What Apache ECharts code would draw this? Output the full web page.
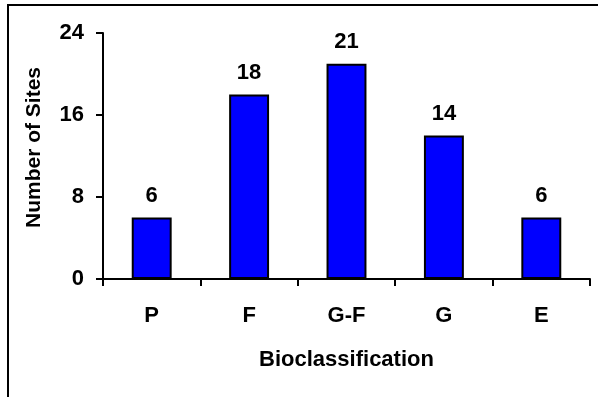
<!DOCTYPE html>
<html>
<head>
<meta charset="utf-8">
<style>
  html, body { margin: 0; padding: 0; background: #ffffff; }
  #chart { width: 598px; height: 397px; }
</style>
<script src="https://cdn.jsdelivr.net/npm/echarts@6/dist/echarts.min.js"></script>
</head>
<body>
<div id="chart"></div>
<script>
// Sites per bioclassification class
const categories = ['P', 'F', 'G-F', 'G', 'E'];
const siteCounts = [6, 18, 21, 14, 6];
const yTicks = [0, 8, 16, 24];

const FONT = "'Liberation Sans', Arial, sans-serif";
const chart = echarts.init(document.getElementById('chart'), null, { renderer: 'canvas' });

chart.setOption({
  backgroundColor: '#ffffff',
  animation: false,
  textStyle: { fontFamily: FONT, color: '#000' },
  grid: { left: 103, right: 8, top: 33, bottom: 118, containLabel: false },
  graphic: [
    { type: 'line', shape: { x1: 7, y1: 5, x2: 598, y2: 5 }, style: { stroke: '#000', lineWidth: 2 } },
    { type: 'line', shape: { x1: 8, y1: 4, x2: 8, y2: 397 }, style: { stroke: '#000', lineWidth: 2 } }
  ],
  xAxis: {
    type: 'category',
    data: categories,
    boundaryGap: true,
    name: 'Bioclassification',
    nameLocation: 'middle',
    nameGap: 70,
    nameTextStyle: { fontFamily: FONT, fontSize: 22, fontWeight: 'bold', color: '#000' },
    axisLine: { lineStyle: { color: '#000', width: 2 } },
    axisTick: { show: true, length: 7, inside: false, lineStyle: { color: '#000', width: 2 } },
    axisLabel: { margin: 26, fontFamily: FONT, fontSize: 22, fontWeight: 'bold', color: '#000' },
    splitLine: { show: false }
  },
  yAxis: {
    type: 'value',
    min: yTicks[0],
    max: yTicks[yTicks.length - 1],
    interval: yTicks[1] - yTicks[0],
    name: 'Number of Sites',
    nameLocation: 'middle',
    nameGap: 58,
    nameRotate: 90,
    nameTextStyle: { fontFamily: FONT, fontSize: 21, fontWeight: 'bold', color: '#000', padding: [0, 0, 0, 17] },
    axisLine: { show: true, lineStyle: { color: '#000', width: 2 } },
    axisTick: { show: true, length: 7, inside: false, lineStyle: { color: '#000', width: 2 } },
    axisLabel: { margin: 19, fontFamily: FONT, fontSize: 22, fontWeight: 'bold', color: '#000' },
    splitLine: { show: false }
  },
  series: [{
    type: 'bar',
    data: siteCounts,
    barWidth: '41%',
    itemStyle: { color: '#0000ff', borderColor: '#000', borderWidth: 2 },
    label: {
      show: true,
      position: 'top',
      distance: 11,
      fontFamily: FONT,
      fontSize: 22,
      fontWeight: 'bold',
      color: '#000'
    }
  }]
});
</script>
</body>
</html>
